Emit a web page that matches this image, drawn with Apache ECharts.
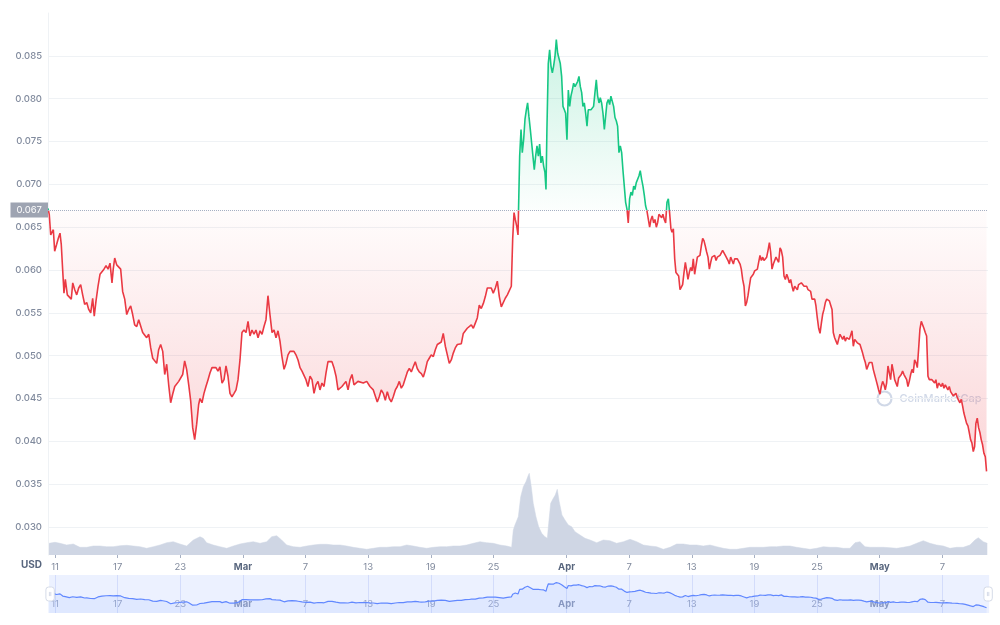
<!DOCTYPE html>
<html>
<head>
<meta charset="utf-8">
<title>Price chart</title>
<script src="https://cdn.jsdelivr.net/npm/echarts@6/dist/echarts.min.js"></script>
<style>
  html, body { margin: 0; padding: 0; background: #fff; }
  #chart { width: 1000px; height: 625px; }
</style>
</head>
<body>
<div id="chart"></div>
<script>
// price readings: [days after Feb 11 2022, price in USD]
const price = [
  [-0.67,0.0672],[-0.55,0.0665],[-0.41,0.0641],[-0.16,0.0647],[-0.03,0.0622],[0.16,0.063],[0.32,0.0637],[0.48,0.0643],[0.60,0.063],[0.74,0.0599],
  [0.86,0.0573],[0.99,0.0589],[1.18,0.0571],[1.37,0.0569],[1.56,0.0566],[1.70,0.0585],[1.89,0.0577],[2.08,0.0571],[2.27,0.0579],[2.46,0.0583],
  [2.65,0.0571],[2.84,0.056],[3.04,0.0562],[3.23,0.0554],[3.42,0.055],[3.61,0.0567],[3.76,0.0546],[3.93,0.0564],[4.12,0.0581],[4.31,0.0595],
  [4.50,0.0597],[4.69,0.0601],[4.89,0.0605],[5.08,0.0601],[5.27,0.0608],[5.46,0.0585],[5.58,0.0601],[5.72,0.0614],[5.91,0.0606],[6.10,0.0608],
  [6.29,0.0601],[6.48,0.0575],[6.68,0.0566],[6.87,0.0548],[7.06,0.0554],[7.25,0.0558],[7.44,0.0548],[7.63,0.0536],[7.83,0.0534],[8.02,0.0542],
  [8.21,0.054],[8.40,0.0527],[8.59,0.0529],[8.78,0.0521],[8.98,0.0525],[9.17,0.0509],[9.36,0.0497],[9.55,0.0495],[9.74,0.0491],[9.93,0.0507],
  [10.12,0.0513],[10.32,0.0505],[10.51,0.0478],[10.70,0.049],[10.89,0.0466],[11.08,0.0445],[11.27,0.0455],[11.47,0.0464],[11.66,0.0462],[11.85,0.047],
  [12.04,0.0468],[12.23,0.0478],[12.42,0.0494],[12.61,0.0484],[12.81,0.0466],[13.00,0.0447],[13.19,0.0416],[13.38,0.0402],[13.57,0.042],[13.76,0.0443],
  [13.89,0.045],[14.08,0.0445],[14.27,0.0456],[14.46,0.0464],[14.66,0.0472],[14.85,0.048],[15.04,0.0486],[15.23,0.0484],[15.42,0.0486],[15.61,0.0482],
  [15.80,0.0487],[16.00,0.0468],[16.19,0.0472],[16.38,0.0488],[16.57,0.0476],[16.76,0.0456],[16.95,0.0452],[17.15,0.0456],[17.34,0.046],[17.53,0.0472],
  [17.72,0.0495],[17.91,0.0527],[18.10,0.053],[18.30,0.0527],[18.49,0.054],[18.68,0.0523],[18.87,0.053],[19.06,0.0525],[19.25,0.053],[19.45,0.0521],
  [19.64,0.0529],[19.83,0.0525],[20.02,0.0534],[20.21,0.0542],[20.40,0.057],[20.59,0.0548],[20.79,0.0527],[20.98,0.053],[21.17,0.0521],[21.36,0.0529],
  [21.55,0.0517],[21.74,0.0499],[21.94,0.0484],[22.13,0.0491],[22.32,0.0501],[22.51,0.0505],[22.70,0.0506],[22.89,0.0505],[23.08,0.0501],[23.28,0.0495],
  [23.47,0.0486],[23.66,0.0482],[23.85,0.0484],[24.04,0.0472],[24.23,0.0464],[24.43,0.0476],[24.62,0.0472],[24.81,0.0456],[25.00,0.0466],[25.19,0.047],
  [25.38,0.046],[25.57,0.0468],[25.77,0.0464],[25.96,0.048],[26.15,0.0493],[26.34,0.0495],[26.53,0.0493],[26.72,0.0486],[26.92,0.0476],[27.11,0.046],
  [27.30,0.0462],[27.49,0.0464],[27.68,0.0464],[27.87,0.047],[28.07,0.046],[28.26,0.0472],[28.45,0.0478],[28.64,0.0466],[28.83,0.0464],[29.02,0.047],
  [29.21,0.047],[29.53,0.0468],[29.86,0.047],[30.17,0.0464],[30.49,0.046],[30.68,0.0458],[30.87,0.0446],[31.06,0.0452],[31.25,0.046],[31.45,0.0456],
  [31.64,0.0448],[31.83,0.0458],[32.02,0.045],[32.21,0.0446],[32.40,0.0452],[32.60,0.046],[32.79,0.0464],[32.98,0.047],[33.17,0.0462],[33.36,0.0466],
  [33.55,0.0468],[33.75,0.0481],[33.94,0.0485],[34.13,0.0481],[34.32,0.0487],[34.51,0.0493],[34.70,0.0485],[34.89,0.0481],[35.09,0.0479],[35.28,0.0475],
  [35.47,0.0483],[35.66,0.0493],[35.85,0.0497],[36.04,0.0501],[36.24,0.0499],[36.43,0.0507],[36.62,0.0513],[36.81,0.0511],[37.00,0.0516],[37.19,0.0526],
  [37.39,0.0511],[37.58,0.0501],[37.77,0.0491],[37.96,0.0495],[38.15,0.0503],[38.34,0.0509],[38.54,0.0513],[38.73,0.0511],[38.92,0.0514],[39.11,0.0526],
  [39.30,0.0528],[39.49,0.0532],[39.68,0.053],[39.88,0.0536],[40.07,0.0532],[40.26,0.0538],[40.45,0.0544],[40.64,0.0559],[40.83,0.0555],[41.03,0.0561],
  [41.22,0.0569],[41.41,0.0579],[41.60,0.0577],[41.79,0.0579],[41.98,0.0573],[42.18,0.0579],[42.37,0.0587],[42.56,0.0569],[42.75,0.0557],[42.94,0.0559],
  [43.13,0.0567],[43.33,0.0571],[43.52,0.0573],[43.71,0.0581],[43.84,0.0636],[43.97,0.0667],[44.09,0.0659],[44.23,0.0651],[44.35,0.0641],
  [44.51,0.0733],[44.64,0.0764],[44.76,0.0737],[44.89,0.0752],[45.02,0.0776],[45.15,0.0787],[45.27,0.0795],[45.40,0.0779],[45.53,0.0764],[45.66,0.0748],
  [45.78,0.0733],[45.91,0.0717],[46.04,0.0733],[46.17,0.0745],[46.30,0.0733],[46.42,0.0747],[46.55,0.0725],[46.68,0.0733],[46.81,0.0721],[46.93,0.0714],
  [47.03,0.0694],[47.12,0.0764],[47.25,0.0841],[47.38,0.0857],[47.51,0.0838],[47.64,0.083],[47.76,0.0838],[47.89,0.0849],[48.02,0.0869],[48.15,0.0853],
  [48.27,0.0855],[48.40,0.0841],[48.53,0.0826],[48.66,0.0791],[48.79,0.0787],[48.91,0.0783],[49.04,0.0752],[49.17,0.081],[49.30,0.0791],[49.42,0.0803],
  [49.55,0.081],[49.68,0.0818],[49.81,0.0814],[49.93,0.0816],[50.06,0.082],[50.19,0.0826],[50.32,0.0814],[50.45,0.0807],[50.57,0.0791],[50.70,0.0795],
  [50.83,0.0783],[50.96,0.0768],[51.08,0.0787],[51.21,0.0789],[51.34,0.0787],[51.47,0.0785],[51.59,0.0791],[51.72,0.0807],[51.85,0.0822],[51.98,0.0803],
  [52.11,0.0795],[52.23,0.0801],[52.36,0.0795],[52.49,0.0783],[52.62,0.0764],[52.74,0.0779],[52.87,0.0795],[53.00,0.0799],[53.13,0.0793],[53.25,0.0803],
  [53.38,0.0801],[53.51,0.0791],[53.64,0.0778],[53.77,0.0774],[53.89,0.0768],[54.02,0.0737],[54.15,0.0745],[54.28,0.0737],[54.40,0.0717],[54.53,0.0698],
  [54.66,0.0679],[54.79,0.0671],[54.91,0.0655],[55.04,0.0683],[55.17,0.0691],[55.30,0.0687],[55.43,0.0698],[55.55,0.0694],[55.68,0.0702],[55.81,0.0706],
  [55.94,0.071],[56.06,0.0716],[56.19,0.0706],[56.32,0.0698],[56.45,0.0687],[56.57,0.0675],[56.70,0.0669],[56.83,0.0667],[56.96,0.065],[57.09,0.0659],
  [57.21,0.0663],[57.34,0.0655],[57.47,0.0659],[57.60,0.065],[57.72,0.0655],[57.85,0.0665],[57.98,0.0667],[58.11,0.0661],[58.23,0.0665],[58.36,0.0659],
  [58.49,0.0655],[58.62,0.0679],[58.75,0.0683],[58.87,0.0667],[59.00,0.0648],
  [59.10,0.0644],[59.23,0.0648],[59.36,0.0613],[59.48,0.0597],[59.61,0.0595],[59.74,0.0593],[59.87,0.0577],[59.99,0.0575],[60.12,0.0583],[60.25,0.0597],
  [60.38,0.0609],[60.51,0.0599],[60.63,0.0589],[60.76,0.0597],[60.89,0.0603],[61.02,0.0599],[61.14,0.0613],[61.27,0.0595],[61.40,0.0605],[61.53,0.0615],
  [61.66,0.0615],[61.78,0.0617],[61.91,0.0628],[62.04,0.0637],[62.17,0.0634],[62.29,0.0628],[62.42,0.0621],[62.55,0.0615],[62.68,0.0601],[62.81,0.0609],
  [62.93,0.0615],[63.06,0.0613],[63.19,0.0617],[63.32,0.0611],[63.44,0.0615],[63.57,0.0613],[63.70,0.0617],[63.83,0.0619],[63.95,0.0623],[64.08,0.0621],
  [64.21,0.0617],[64.34,0.0615],[64.47,0.0611],[64.59,0.0607],[64.72,0.0615],[64.85,0.0611],[64.98,0.0607],[65.10,0.0613],[65.23,0.0611],[65.36,0.0613],
  [65.49,0.0611],[65.62,0.0607],[65.74,0.0601],[65.87,0.0589],[66.00,0.0581],[66.13,0.0558],[66.25,0.0562],[66.38,0.057],[66.51,0.0581],[66.64,0.0591],
  [66.77,0.0589],[66.89,0.0595],[67.02,0.0599],[67.15,0.0597],[67.28,0.0601],[67.40,0.0609],[67.53,0.0617],[67.66,0.0611],[67.79,0.0615],[67.91,0.0611],
  [68.04,0.0613],[68.17,0.0615],[68.30,0.0623],[68.43,0.0632],[68.55,0.0621],[68.68,0.0601],[68.81,0.0607],[68.94,0.0609],[69.06,0.0615],[69.19,0.0613],
  [69.32,0.0609],[69.45,0.0626],[69.57,0.0623],[69.70,0.0615],[69.83,0.0593],[69.96,0.0589],[70.09,0.0595],[70.21,0.0591],[70.34,0.0585],[70.47,0.0589],
  [70.60,0.0581],[70.72,0.0575],[70.85,0.0581],[70.98,0.0579],[71.11,0.0577],[71.23,0.0583],[71.36,0.0581],[71.49,0.0585],[71.62,0.0587],[71.75,0.0581],
  [71.87,0.0579],[72.00,0.0581],[72.13,0.0577],[72.26,0.0579],[72.38,0.0575],[72.51,0.0566],[72.64,0.0564],[72.77,0.0566],[72.89,0.0558],[73.02,0.0544],
  [73.15,0.0532],[73.28,0.0526],[73.41,0.0538],[73.53,0.0548],[73.66,0.0554],[73.79,0.0562],[73.92,0.0566],[74.04,0.0566],[74.17,0.0564],
  [74.23,0.0566],[74.43,0.0554],[74.55,0.0527],[74.68,0.0521],[74.81,0.0517],[74.94,0.0513],[75.06,0.0519],[75.19,0.0525],[75.32,0.0527],[75.45,0.0519],
  [75.58,0.0523],[75.70,0.0517],[75.83,0.0521],[75.96,0.0519],[76.09,0.0519],[76.21,0.0521],[76.34,0.0529],[76.47,0.0511],[76.60,0.0519],[76.72,0.0519],
  [76.85,0.0515],[76.98,0.0517],[77.11,0.0513],[77.24,0.0513],[77.36,0.0503],[77.49,0.0497],[77.62,0.0492],[77.75,0.0484],[77.87,0.0482],[78.00,0.0492],
  [78.13,0.0493],[78.26,0.0492],[78.38,0.0484],[78.51,0.0478],[78.64,0.0472],[78.77,0.0466],[78.89,0.046],[79.02,0.0455],[79.15,0.0464],[79.28,0.047],
  [79.41,0.0466],[79.53,0.046],[79.66,0.0468],[79.79,0.0488],[79.92,0.048],[80.04,0.0472],[80.17,0.049],[80.30,0.0482],[80.43,0.0472],[80.55,0.047],
  [80.68,0.0464],[80.81,0.0474],[80.94,0.0476],[81.06,0.0478],[81.19,0.0482],[81.32,0.0478],[81.45,0.0476],[81.58,0.0472],[81.70,0.0464],[81.83,0.047],
  [81.96,0.0478],[82.09,0.0484],[82.21,0.048],[82.34,0.0495],[82.47,0.0492],[82.60,0.0486],[82.72,0.0507],[82.85,0.0531],[82.98,0.054],[83.11,0.0542],
  [83.23,0.0532],[83.36,0.0527],[83.49,0.0523],[83.62,0.0476],[83.75,0.0472],[83.87,0.047],[84.00,0.0472],[84.13,0.047],[84.26,0.0468],[84.38,0.0472],
  [84.51,0.0462],[84.64,0.0468],[84.77,0.0466],[84.89,0.0464],[85.02,0.0468],[85.15,0.0462],[85.28,0.0466],[85.41,0.0468],[85.53,0.046],[85.66,0.0464],
  [85.79,0.0458],[85.92,0.0456],[86.04,0.0453],[86.17,0.0455],[86.30,0.0456],[86.43,0.0451],[86.55,0.0449],[86.68,0.0445],[86.81,0.0449],[86.94,0.0441],
  [87.06,0.0433],[87.19,0.0431],[87.32,0.0421],[87.45,0.0418],[87.58,0.041],[87.70,0.0402],[87.83,0.0398],[87.96,0.0388],[88.09,0.0394],[88.21,0.0421],
  [88.34,0.0427],[88.47,0.0416],[88.60,0.041],[88.72,0.0402],[88.85,0.0396],[88.98,0.0386],[89.11,0.0382],[89.23,0.0365]
]

// 24h volume readings: [days after Feb 11 2022, volume in M USD]
const volume = [
  [-0.57,11.7],[0,12.7],[0.48,11.7],[1.12,10],[1.75,11],[2.39,7.7],[3.04,7.7],[3.67,9],[4.31,9],[4.95,8.3],
  [5.58,8.3],[6.23,9.3],[6.87,9.7],[7.50,9],[8.14,8.3],[8.78,6.7],[9.42,8.3],[10.06,10],[10.70,12.3],[11.33,13.3],
  [11.97,11],[12.61,9],[13.25,15],[13.89,18.3],[14.20,16.7],[14.53,12.3],[15.16,10],[15.80,8.3],[16.45,6.7],[17.08,9],
  [17.72,11],[18.36,12.3],[18.99,13.3],[19.64,11.7],[20.28,13.3],[20.76,18.3],[21.24,19.3],[21.71,15],[22.19,10],[22.83,8.3],
  [23.47,7.7],[24.11,9],[24.74,10],[25.38,10.7],[26.02,10.7],[26.66,10],[27.30,10],[27.94,9],[28.57,7.7],[29.21,6.7],
  [29.86,5.7],[30.49,6.7],[31.13,7.7],[31.77,7.7],[32.40,8.3],[33.05,8.3],[33.69,10],[34.32,9],[34.96,7.7],[35.60,6.7],
  [36.24,7.7],[36.88,8.3],[37.52,8.3],[38.15,9],[38.79,9],[39.43,10],[40.07,11.7],[40.71,13.3],[41.35,12.3],[41.98,11.7],
  [42.62,10],[43.27,9],[43.74,7.7],[43.90,25],[44.06,30],[44.38,38.3],[44.61,58.3],[44.86,68.3],[45.11,73.3],[45.31,79],
  [45.43,81.7],[45.62,68.3],[45.81,51.7],[46.07,38.3],[46.33,28.3],[46.62,21.7],[46.93,18.3],[47.16,16.7],[47.29,31.7],[47.48,51.7],
  [47.73,56.7],[47.92,60],[48.11,65.7],[48.30,53.3],[48.56,40],[48.85,35],[49.17,30],[49.49,28.3],[49.81,23.3],[50.29,20],
  [50.77,16.7],[51.25,15],[51.89,12.3],[52.52,15],[53.16,14.3],[53.80,11.7],[54.44,13.3],[55.08,15.7],[55.72,13.3],[56.35,10],
  [56.99,9],[57.63,8.3],[58.27,5.7],[58.91,7.7],[59.55,11],[60.18,11],[60.82,10],[61.47,10],[62.10,9],[62.74,10],
  [63.38,8.3],[64.01,6.7],[64.66,5.7],[65.30,5.7],[65.93,6.7],[66.57,7.7],[67.21,7.7],[67.85,7.7],[68.49,8.3],[69.13,8.3],
  [69.76,9],[70.40,9],[71.04,7.7],[71.68,6.7],[72.32,5.7],[72.96,6.7],[73.59,8.3],[74.23,7.7],[74.87,7.7],[75.51,6.7],
  [76.15,6.7],[76.63,12.3],[77.11,13.3],[77.59,8.3],[78.07,7.7],[78.71,7.7],[79.34,7.7],[79.98,7.3],[80.62,6.7],[81.26,7.7],
  [81.90,9],[82.54,11.7],[83.17,14.3],[83.81,11.7],[84.45,10],[85.09,9],[85.73,6.7],[86.37,7.7],[87.00,7.7],[87.64,10],
  [88.12,15],[88.44,17.3],[88.92,13.3],[89.30,11.7]
]

const tickDates = ['2022-02-11','2022-02-17','2022-02-23','2022-03-01','2022-03-07','2022-03-13','2022-03-19','2022-03-25',
  '2022-04-01','2022-04-07','2022-04-13','2022-04-19','2022-04-25','2022-05-01','2022-05-07']
const MONTHS = ['Jan','Feb','Mar','Apr','May','Jun','Jul','Aug','Sep','Oct','Nov','Dec']
const baseline = 0.067

const DAY = 86400000
const START = new Date('2022-02-11T00:00:00').getTime()
const toTime = d => START + d * DAY
const pricePts = price.map(([d, v]) => [toTime(d), v])
const volumePts = volume.map(([d, v]) => [toTime(d), v])
const tickValues = tickDates.map(s => new Date(s + 'T00:00:00').getTime())
const X_MIN = toTime(-0.67)
const X_MAX = toTime(89.37)

const dateLabel = (v) => {
    const d = new Date(v)
    return d.getDate() === 1 ? `{m|${MONTHS[d.getMonth()]}}` : String(d.getDate())
}

// gradients are laid over the bounding box of the price shape, top = max, bottom = min
const pMax = Math.max(...price.map(p => p[1]))
const pMin = Math.min(...price.map(p => p[1]))
const split = (pMax - baseline) / (pMax - pMin)

const GREEN = '#16c784'
const RED = '#ea3943'
const FONT = 'Inter'
const GRID_LINE = '#eff2f5'

const chart = echarts.init(document.getElementById('chart'))

chart.setOption({
    animation: false,
    backgroundColor: '#fff',
    textStyle: { fontFamily: FONT },
    grid: [
        { left: 48, right: 12, top: 13, height: 514 },
        { left: 48, right: 12, top: 455, height: 100 },
        { left: 48, right: 12, top: 575, height: 38 }
    ],
    xAxis: [
        { type: 'value', gridIndex: 0, min: X_MIN, max: X_MAX, show: false, splitLine: { show: false } },
        {
            type: 'value', gridIndex: 1, min: X_MIN, max: X_MAX,
            axisLine: { show: false },
            axisTick: { show: true, length: 3, customValues: tickValues, lineStyle: { color: '#a6b0c3' } },
            axisLabel: {
                customValues: tickValues, formatter: dateLabel, margin: 7,
                color: '#808a9d', fontSize: 9.5, fontFamily: FONT,
                rich: { m: { fontWeight: 'bold', color: '#58667e', fontSize: 9.5, fontFamily: FONT } }
            },
            splitLine: { show: false }
        },
        {
            type: 'value', gridIndex: 2, min: X_MIN, max: X_MAX,
            axisLine: { show: false },
            axisTick: { show: false, customValues: tickValues },
            axisLabel: {
                inside: true, customValues: tickValues, formatter: dateLabel, margin: 4,
                color: '#a3abc0', fontSize: 9.5, fontFamily: FONT,
                rich: { m: { fontWeight: 'bold', color: '#939cb3', fontSize: 9.5, fontFamily: FONT } }
            },
            splitLine: { show: true, lineStyle: { color: '#e3e8fb', width: 1 } }
        }
    ],
    yAxis: [
        {
            type: 'value', gridIndex: 0, min: 0.03, max: 0.09, interval: 0.005,
            axisLine: { show: true, lineStyle: { color: GRID_LINE } },
            axisTick: { show: false },
            axisLabel: {
                formatter: v => (v > 0.0899 ? '' : v.toFixed(3)),
                color: '#808a9d', fontSize: 9.5, fontWeight: 500, margin: 6, fontFamily: FONT
            },
            splitLine: { show: true, showMaxLine: false, lineStyle: { color: GRID_LINE } }
        },
        {
            type: 'value', gridIndex: 1, min: 0, max: 100,
            axisLine: { show: true, lineStyle: { color: GRID_LINE } },
            axisTick: { show: false }, axisLabel: { show: false }, splitLine: { show: false }
        },
        { type: 'value', gridIndex: 2, min: 0.026, max: 0.102, show: false, splitLine: { show: false } }
    ],
    dataZoom: [{
        type: 'slider', xAxisIndex: [0, 1], filterMode: 'none',
        left: 48, right: 12, top: 575, height: 38,
        showDetail: false, showDataShadow: false, brushSelect: false,
        borderColor: 'transparent', backgroundColor: 'transparent',
        fillerColor: 'rgba(97,136,255,0.12)',
        moveHandleSize: 0,
        handleIcon: 'path://M4,0h4a4,4,0,0,1,4,4v12a4,4,0,0,1-4,4h-4a4,4,0,0,1-4-4v-12a4,4,0,0,1,4-4zM5,7v6M7,7v6',
        handleSize: 14,
        handleStyle: { color: '#fff', borderColor: '#d5dbe8', borderWidth: 1 }
    }],
    series: [
        {
            name: 'Price', type: 'line', xAxisIndex: 0, yAxisIndex: 0, z: 4,
            data: pricePts, showSymbol: false, symbol: 'none', silent: true,
            lineStyle: {
                width: 1.6,
                color: new echarts.graphic.LinearGradient(0, 0, 0, 1, [
                    { offset: 0, color: GREEN },
                    { offset: split, color: GREEN },
                    { offset: split, color: RED },
                    { offset: 1, color: RED }
                ])
            }
        },
        {
            name: 'Fill', type: 'line', xAxisIndex: 0, yAxisIndex: 0, z: 2,
            data: pricePts, showSymbol: false, symbol: 'none', silent: true,
            lineStyle: { width: 0, opacity: 0 },
            areaStyle: {
                origin: baseline,
                color: new echarts.graphic.LinearGradient(0, 0, 0, 1, [
                    { offset: 0, color: 'rgba(22,199,132,0.32)' },
                    { offset: split, color: 'rgba(22,199,132,0.02)' },
                    { offset: split, color: 'rgba(234,57,67,0.02)' },
                    { offset: 1, color: 'rgba(234,57,67,0.30)' }
                ])
            },
            markLine: {
                silent: true, symbol: 'none', precision: 4,
                lineStyle: { type: 'dotted', color: '#a6b0c3', width: 1 },
                label: {
                    position: 'start', distance: 0, formatter: baseline.toFixed(3),
                    color: '#fff', backgroundColor: '#9ea4b2', padding: [3, 6, 2, 6],
                    fontSize: 9.5, fontFamily: FONT
                },
                data: [{ yAxis: baseline }]
            }
        },
        {
            name: 'Volume', type: 'line', xAxisIndex: 1, yAxisIndex: 1, z: 1,
            data: volumePts, showSymbol: false, symbol: 'none', silent: true,
            lineStyle: { width: 0.5, color: '#cfd6e4' },
            areaStyle: { color: '#cfd6e4', opacity: 1 }
        },
        {
            name: 'Overview', type: 'line', xAxisIndex: 2, yAxisIndex: 2, z: 2,
            data: pricePts, showSymbol: false, symbol: 'none', silent: true,
            lineStyle: { width: 1.2, color: '#6188ff' },
            areaStyle: { color: 'rgba(97,136,255,0.12)', origin: 'start' }
        }
    ],
    graphic: [
        {
            type: 'text', left: 21, top: 560,
            style: { text: 'USD', fill: '#58667e', font: `bold 10px ${FONT}` }
        },
        {
            type: 'group', left: 875, top: 389, silent: true,
            children: [
                { type: 'circle', shape: { cx: 8, cy: 8, r: 7 }, style: { fill: 'none', stroke: 'rgba(170,184,212,0.55)', lineWidth: 2.2 } },
                { type: 'text', x: 23, y: 8, style: { text: 'CoinMarketCap', fill: 'rgba(170,184,212,0.55)', font: `500 11px ${FONT}`, verticalAlign: 'middle' } }
            ]
        }
    ]
})
</script>
</body>
</html>
